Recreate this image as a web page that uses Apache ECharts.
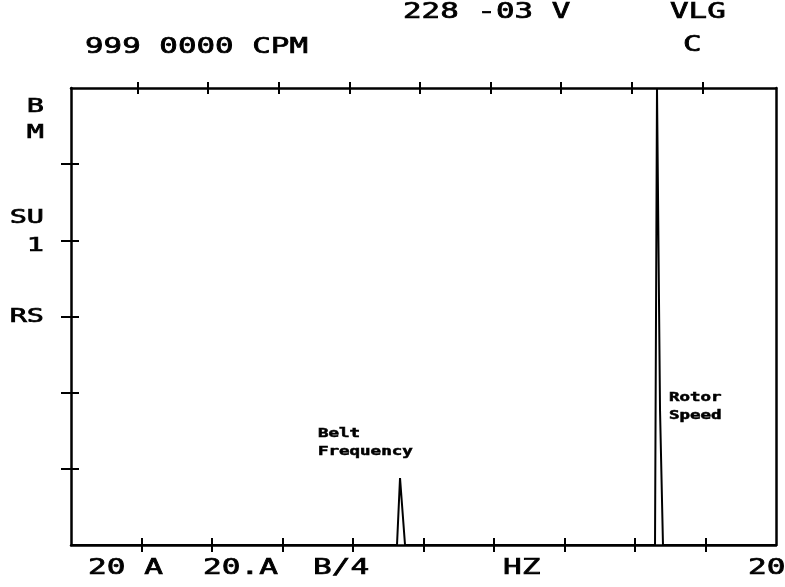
<!DOCTYPE html>
<html>
<head>
<meta charset="utf-8">
<script src="https://cdn.jsdelivr.net/npm/echarts@6/dist/echarts.min.js"></script>
<style>
  html, body { margin: 0; padding: 0; background: #fff; }
  #chart { width: 785px; height: 587px; }
</style>
</head>
<body>
<div id="chart"></div>
<script>
// Vibration spectrum: frequency (axis divisions) vs amplitude (axis divisions)
const freq = [0, 4.624, 4.667, 4.738, 8.284, 8.312, 8.355, 8.397, 10];
const amp  = [0, 0,     0.88,  0,     0,     6,     1.77,  0,     0];

// Tick marks along the frame
const xTicks = [1, 2, 3, 4, 5, 6, 7, 8, 9];
const yTicks = [1, 2, 3, 4, 5];

// Plotter texts around the frame
const headerLabels = ['999 0000 CPM', '228 -03 V', 'VLG', 'C'];
const sideLabels = ['B', 'M', 'SU', '1', 'RS'];
const footLabels = ['20 A', '20.A', 'B/4', 'HZ', '20'];
const peakNotes = ['Belt\nFrequency', 'Rotor\nSpeed'];

const INK = '#000';
const plotFont = '"DejaVu Sans Mono", "Liberation Mono", monospace';

function frameAxis(kind, position, tick, showLine, gridIndex) {
  return {
    type: 'value',
    gridIndex: gridIndex || 0,
    position: position,
    min: 0,
    max: kind === 'x' ? 10 : 6,
    interval: 1,
    axisLine: { show: showLine, onZero: false, lineStyle: { color: INK, width: 2.5 } },
    axisLabel: { show: false },
    splitLine: { show: false },
    axisTick: tick
      ? {
          show: true,
          inside: tick.inside,
          length: tick.length,
          customValues: kind === 'x' ? xTicks : yTicks,
          lineStyle: { color: INK, width: 2 }
        }
      : { show: false }
  };
}

function plotText(text, x, y, size, scaleX, align, weight, outline) {
  return {
    type: 'text',
    x: x,
    y: y,
    scaleX: scaleX,
    silent: true,
    style: {
      text: text,
      font: (weight || 'normal') + ' ' + size + 'px ' + plotFont,
      fill: INK,
      stroke: INK,
      lineWidth: outline,
      align: align,
      verticalAlign: 'middle',
      textAlign: align,
      textVerticalAlign: 'middle',
      lineHeight: size * 1.6
    }
  };
}

const chart = echarts.init(document.getElementById('chart'), null, { renderer: 'canvas' });

const headerPos = [[85, 48], [403, 13], [670, 13], [683, 46]];
const sidePos = [107, 133, 218, 246, 317];
const footPos = [88, 203, 313, 503, 748];

const graphics = [];
headerLabels.forEach((t, i) => graphics.push(plotText(t, headerPos[i][0], headerPos[i][1], 21, 1.47, 'left', 'normal', 0.7)));
sideLabels.forEach((t, i) => graphics.push(plotText(t, 44, sidePos[i], 19, 1.5, 'right', 'normal', 0.7)));
footLabels.forEach((t, i) => graphics.push(plotText(t, footPos[i], 569, 21, 1.48, 'left', 'normal', 0.7)));
graphics.push(plotText(peakNotes[0], 318, 443, 11.5, 1.52, 'left', 'bold', 0.5));
graphics.push(plotText(peakNotes[1], 669, 407, 11.5, 1.52, 'left', 'bold', 0.5));

chart.setOption({
  backgroundColor: '#fff',
  animation: false,
  grid: [
    { left: 71, right: 9, top: 88, bottom: 42, containLabel: false },
    { left: 67, right: 12, top: 88, bottom: 42, containLabel: false }
  ],
  xAxis: [
    frameAxis('x', 'bottom', { inside: false, length: 7 }, true, 0),
    frameAxis('x', 'bottom', { inside: true, length: 7 }, false, 0),
    frameAxis('x', 'top', null, true, 0),
    frameAxis('x', 'top', { inside: false, length: 6 }, false, 1),
    frameAxis('x', 'top', { inside: true, length: 6 }, false, 1)
  ],
  yAxis: [
    frameAxis('y', 'left', { inside: false, length: 10 }, true, 0),
    frameAxis('y', 'left', { inside: true, length: 8 }, false, 0),
    frameAxis('y', 'right', null, true, 0),
    frameAxis('y', 'left', null, false, 1)
  ],
  series: [{
    type: 'line',
    xAxisIndex: 0,
    yAxisIndex: 0,
    data: freq.map((f, i) => [f, amp[i]]),
    showSymbol: false,
    symbol: 'none',
    clip: true,
    lineStyle: { color: INK, width: 2 },
    emphasis: { disabled: true }
  }],
  graphic: graphics
});
</script>
</body>
</html>
